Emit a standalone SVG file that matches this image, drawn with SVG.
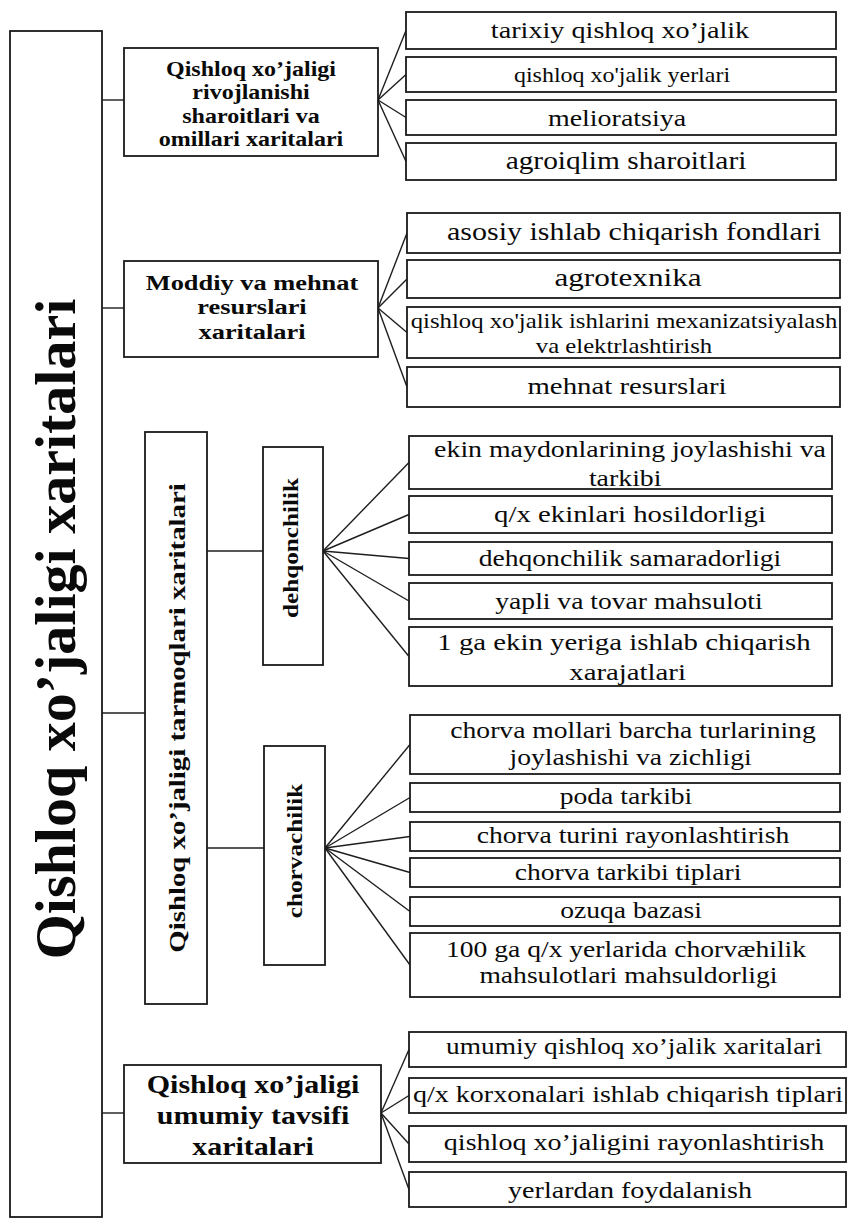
<svg xmlns="http://www.w3.org/2000/svg" width="848" height="1220" viewBox="0 0 848 1220">
<style>
.box{fill:#fff;stroke:#1a1a1a;stroke-width:1.8}
.t{font-family:"Liberation Serif","Times New Roman",serif;fill:#0a0a0a;text-anchor:middle}
.b{font-weight:bold}
#connectors line{stroke:#1e1e1e;stroke-width:1.4;fill:none}
</style>
<rect x="0" y="0" width="848" height="1220" fill="#fff"/>
<g id="connectors">
<line x1="102" y1="100" x2="124" y2="100"/>
<line x1="378" y1="100" x2="406" y2="30.5"/>
<line x1="378" y1="100" x2="406" y2="74.5"/>
<line x1="378" y1="100" x2="406" y2="117.5"/>
<line x1="378" y1="100" x2="406" y2="161.5"/>
<line x1="102" y1="308" x2="124" y2="308"/>
<line x1="378" y1="308" x2="407" y2="233"/>
<line x1="378" y1="308" x2="407" y2="279"/>
<line x1="378" y1="308" x2="407" y2="332.5"/>
<line x1="378" y1="308" x2="407" y2="387"/>
<line x1="102" y1="713" x2="145" y2="713"/>
<line x1="207" y1="551" x2="263" y2="551"/>
<line x1="323" y1="551" x2="409" y2="462.5"/>
<line x1="323" y1="551" x2="409" y2="514.5"/>
<line x1="323" y1="551" x2="409" y2="558.5"/>
<line x1="323" y1="551" x2="409" y2="601"/>
<line x1="323" y1="551" x2="409" y2="656.5"/>
<line x1="207" y1="848" x2="264" y2="848"/>
<line x1="325" y1="848" x2="410" y2="744.5"/>
<line x1="325" y1="848" x2="410" y2="797.5"/>
<line x1="325" y1="848" x2="410" y2="836.5"/>
<line x1="325" y1="848" x2="410" y2="872.5"/>
<line x1="325" y1="848" x2="410" y2="911.5"/>
<line x1="325" y1="848" x2="410" y2="965"/>
<line x1="102" y1="1113" x2="124" y2="1113"/>
<line x1="381" y1="1113" x2="409" y2="1049.5"/>
<line x1="381" y1="1113" x2="409" y2="1095.5"/>
<line x1="381" y1="1113" x2="409" y2="1144"/>
<line x1="381" y1="1113" x2="409" y2="1189.5"/>
</g>
<g id="n-main">
<rect class="box" x="10" y="31" width="92" height="1186"/>
<text class="t b" font-size="58" transform="translate(75 629) rotate(-90)">Qishloq xo’jaligi xaritalari</text>
</g>
<g id="n-s1">
<rect class="box" x="124" y="48" width="254" height="108"/>
<text class="t b" font-size="20" transform="translate(251 76) scale(1.2 1)"><tspan x="0" y="0">Qishloq xo’jaligi</tspan><tspan x="0" y="23.5">rivojlanishi</tspan><tspan x="0" y="47">sharoitlari va</tspan><tspan x="0" y="70.5">omillari xaritalari</tspan></text>
</g>
<g id="n-s1-1"><rect class="box" x="406" y="12" width="430" height="37"/><text class="t" font-size="23.5" transform="translate(620 38) scale(1.2 1)">tarixiy qishloq xo’jalik</text></g>
<g id="n-s1-2"><rect class="box" x="406" y="57" width="430" height="35"/><text class="t" font-size="20" transform="translate(622 82) scale(1.2 1)">qishloq xo'jalik yerlari</text></g>
<g id="n-s1-3"><rect class="box" x="406" y="100" width="430" height="35"/><text class="t" font-size="23.3" transform="translate(617 126) scale(1.2 1)">melioratsiya</text></g>
<g id="n-s1-4"><rect class="box" x="406" y="143" width="430" height="37"/><text class="t" font-size="24.5" transform="translate(626 169) scale(1.2 1)">agroiqlim sharoitlari</text></g>
<g id="n-s2">
<rect class="box" x="124" y="261" width="254" height="96"/>
<text class="t b" font-size="22" transform="translate(252 290) scale(1.2 1)"><tspan x="0" y="0">Moddiy va mehnat</tspan><tspan x="0" y="24.5">resurslari</tspan><tspan x="0" y="49">xaritalari</tspan></text>
</g>
<g id="n-s2-1"><rect class="box" x="407" y="213" width="433" height="40"/><text class="t" font-size="25" transform="translate(634 240) scale(1.2 1)">asosiy ishlab chiqarish fondlari</text></g>
<g id="n-s2-2"><rect class="box" x="407" y="260" width="433" height="38"/><text class="t" font-size="26" transform="translate(628 286) scale(1.2 1)">agrotexnika</text></g>
<g id="n-s2-3"><rect class="box" x="407" y="307" width="433" height="51"/><text class="t" font-size="20.6" transform="translate(624 328) scale(1.2 1)"><tspan x="0" y="0">qishloq xo'jalik ishlarini mexanizatsiyalash</tspan><tspan x="0" y="25">va elektrlashtirish</tspan></text></g>
<g id="n-s2-4"><rect class="box" x="407" y="367" width="433" height="40"/><text class="t" font-size="24" transform="translate(627 394) scale(1.2 1)">mehnat resurslari</text></g>
<g id="n-s3">
<rect class="box" x="145" y="432" width="62" height="572"/>
<text class="t b" font-size="24" transform="translate(185 718) scale(1 1.2) rotate(-90)">Qishloq xo’jaligi tarmoqlari xaritalari</text>
</g>
<g id="n-s3-d">
<rect class="box" x="263" y="447" width="60" height="218"/>
<text class="t b" font-size="21" transform="translate(298 548) scale(1 1.2) rotate(-90)">dehqonchilik</text>
</g>
<g id="n-d1"><rect class="box" x="409" y="436" width="423" height="53"/><text class="t" font-size="23.2" transform="translate(630 457) scale(1.2 1)"><tspan x="0" y="0">ekin maydonlarining joylashishi va</tspan><tspan x="-4" y="29">tarkibi</tspan></text></g>
<g id="n-d2"><rect class="box" x="409" y="496" width="423" height="37"/><text class="t" font-size="24" transform="translate(630 522) scale(1.2 1)">q/x ekinlari hosildorligi</text></g>
<g id="n-d3"><rect class="box" x="409" y="542" width="423" height="33"/><text class="t" font-size="23" transform="translate(630 566) scale(1.2 1)">dehqonchilik samaradorligi</text></g>
<g id="n-d4"><rect class="box" x="409" y="583" width="423" height="36"/><text class="t" font-size="23" transform="translate(629 609) scale(1.2 1)">yapli va tovar mahsuloti</text></g>
<g id="n-d5"><rect class="box" x="409" y="627" width="423" height="59"/><text class="t" font-size="24" transform="translate(624 650) scale(1.2 1)"><tspan x="0" y="0">1 ga ekin yeriga ishlab chiqarish</tspan><tspan x="3" y="30">xarajatlari</tspan></text></g>
<g id="n-s3-c">
<rect class="box" x="264" y="746" width="61" height="219"/>
<text class="t b" font-size="21" transform="translate(302 851) scale(1 1.2) rotate(-90)">chorvachilik</text>
</g>
<g id="n-c1"><rect class="box" x="410" y="715" width="430" height="59"/><text class="t" font-size="23" transform="translate(633 738) scale(1.2 1)"><tspan x="0" y="0">chorva mollari barcha turlarining</tspan><tspan x="-2" y="27">joylashishi va zichligi</tspan></text></g>
<g id="n-c2"><rect class="box" x="410" y="783" width="430" height="29"/><text class="t" font-size="23" transform="translate(626 804) scale(1.2 1)">poda tarkibi</text></g>
<g id="n-c3"><rect class="box" x="410" y="822" width="430" height="29"/><text class="t" font-size="23" transform="translate(633 843) scale(1.2 1)">chorva turini rayonlashtirish</text></g>
<g id="n-c4"><rect class="box" x="410" y="858" width="430" height="29"/><text class="t" font-size="23" transform="translate(628 880) scale(1.2 1)">chorva tarkibi tiplari</text></g>
<g id="n-c5"><rect class="box" x="410" y="897" width="430" height="29"/><text class="t" font-size="23" transform="translate(631 918) scale(1.2 1)">ozuqa bazasi</text></g>
<g id="n-c6"><rect class="box" x="410" y="933" width="430" height="64"/><text class="t" font-size="23" transform="translate(626 957) scale(1.2 1)"><tspan x="0" y="0">100 ga q/x yerlarida chorvæhilik</tspan><tspan x="2" y="26">mahsulotlari mahsuldorligi</tspan></text></g>
<g id="n-s4">
<rect class="box" x="124" y="1065" width="257" height="98"/>
<text class="t b" font-size="25" transform="translate(253 1093) scale(1.2 1)"><tspan x="0" y="0">Qishloq xo’jaligi</tspan><tspan x="0" y="31">umumiy tavsifi</tspan><tspan x="0" y="62">xaritalari</tspan></text>
</g>
<g id="n-s4-1"><rect class="box" x="409" y="1032" width="437" height="35"/><text class="t" font-size="22.8" transform="translate(634 1054) scale(1.2 1)">umumiy qishloq xo’jalik xaritalari</text></g>
<g id="n-s4-2"><rect class="box" x="409" y="1078" width="437" height="35"/><text class="t" font-size="23.4" transform="translate(628 1102) scale(1.2 1)">q/x korxonalari ishlab chiqarish tiplari</text></g>
<g id="n-s4-3"><rect class="box" x="409" y="1126" width="437" height="36"/><text class="t" font-size="23.4" transform="translate(634 1150) scale(1.2 1)">qishloq xo’jaligini rayonlashtirish</text></g>
<g id="n-s4-4"><rect class="box" x="409" y="1172" width="437" height="35"/><text class="t" font-size="23.4" transform="translate(630 1198) scale(1.2 1)">yerlardan foydalanish</text></g>
</svg>
